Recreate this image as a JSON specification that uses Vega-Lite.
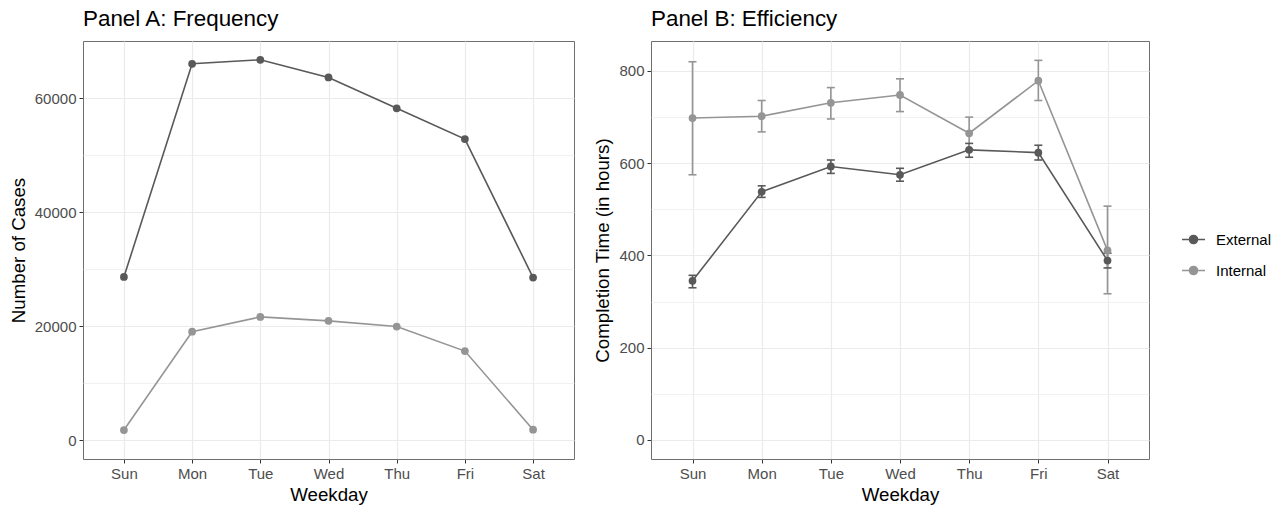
{
  "$schema": "https://vega.github.io/schema/vega-lite/v6.json",
  "padding": {"left": 8, "top": 7, "right": 0, "bottom": 0},
  "background": "white",
  "config": {
    "font": "Liberation Sans",
    "view": {"stroke": "#6f6f6f", "strokeWidth": 1},
    "axis": {
      "gridColor": "#ebebeb", "gridWidth": 1.2, "domain": false,
      "tickColor": "#333333", "tickSize": 4, "tickWidth": 1,
      "labelColor": "#4d4d4d", "labelFontSize": 15, "labelFont": "Liberation Sans",
      "titleFontSize": 18.7, "titleFontWeight": "normal", "titleColor": "#000000", "titleFont": "Liberation Sans",
      "labelPadding": 3
    },
    "title": {"anchor": "start", "frame": "group", "fontSize": 22.4, "fontWeight": "normal", "font": "Liberation Sans", "offset": 11, "color": "#000000"}
  },
  "datasets": {
    "freq": [
      {"day": "Sun", "type": "External", "cases": 28600},
      {"day": "Mon", "type": "External", "cases": 66000},
      {"day": "Tue", "type": "External", "cases": 66700},
      {"day": "Wed", "type": "External", "cases": 63600},
      {"day": "Thu", "type": "External", "cases": 58200},
      {"day": "Fri", "type": "External", "cases": 52800},
      {"day": "Sat", "type": "External", "cases": 28500},
      {"day": "Sun", "type": "Internal", "cases": 1750},
      {"day": "Mon", "type": "Internal", "cases": 19000},
      {"day": "Tue", "type": "Internal", "cases": 21600},
      {"day": "Wed", "type": "Internal", "cases": 20900},
      {"day": "Thu", "type": "Internal", "cases": 19900},
      {"day": "Fri", "type": "Internal", "cases": 15600},
      {"day": "Sat", "type": "Internal", "cases": 1800}
    ],
    "eff": [
      {"day": "Sun", "type": "External", "hours": 345, "lo": 330, "hi": 357},
      {"day": "Mon", "type": "External", "hours": 538, "lo": 526, "hi": 551},
      {"day": "Tue", "type": "External", "hours": 593, "lo": 578, "hi": 607},
      {"day": "Wed", "type": "External", "hours": 575, "lo": 561, "hi": 589},
      {"day": "Thu", "type": "External", "hours": 629, "lo": 613, "hi": 643},
      {"day": "Fri", "type": "External", "hours": 623, "lo": 607, "hi": 639},
      {"day": "Sat", "type": "External", "hours": 389, "lo": 373, "hi": 405},
      {"day": "Sun", "type": "Internal", "hours": 698, "lo": 575, "hi": 820},
      {"day": "Mon", "type": "Internal", "hours": 702, "lo": 668, "hi": 736},
      {"day": "Tue", "type": "Internal", "hours": 731, "lo": 696, "hi": 764},
      {"day": "Wed", "type": "Internal", "hours": 748, "lo": 712, "hi": 783},
      {"day": "Thu", "type": "Internal", "hours": 665, "lo": 630, "hi": 700},
      {"day": "Fri", "type": "Internal", "hours": 779, "lo": 736, "hi": 823},
      {"day": "Sat", "type": "Internal", "hours": 411, "lo": 317, "hi": 507}
    ]
  },
  "resolve": {"scale": {"color": "independent"}},
  "spacing": 18,
  "hconcat": [
    {
      "title": "Panel A: Frequency",
      "width": 491,
      "height": 418,
      "data": {"name": "freq"},
      "encoding": {
        "x": {"field": "day", "type": "ordinal", "sort": ["Sun", "Mon", "Tue", "Wed", "Thu", "Fri", "Sat"],
              "scale": {"type": "point", "padding": 0.6},
              "axis": {"title": "Weekday", "labelAngle": 0, "grid": true, "titlePadding": 4}},
        "color": {"field": "type", "type": "nominal",
                  "scale": {"domain": ["External", "Internal"], "range": ["#595959", "#959595"]},
                  "legend": null}
      },
      "layer": [
        {
          "mark": {"type": "line", "strokeWidth": 1.6},
          "encoding": {
            "y": {"field": "cases", "type": "quantitative",
                  "scale": {"domain": [-3333, 70000], "nice": false, "zero": false},
                  "axis": {"orient": "right", "values": [10000, 30000, 50000], "grid": true, "gridWidth": 0.7,
                           "labels": false, "ticks": false, "title": null, "domain": false}}
          }
        },
        {
          "mark": {"type": "point", "filled": true, "opacity": 1, "size": 60},
          "encoding": {
            "y": {"field": "cases", "type": "quantitative",
                  "axis": {"title": "Number of Cases", "grid": true, "values": [0, 20000, 40000, 60000], "format": "d", "titlePadding": 6}}
          }
        }
      ],
      "resolve": {"axis": {"y": "independent"}}
    },
    {
      "title": "Panel B: Efficiency",
      "width": 498,
      "height": 418,
      "data": {"name": "eff"},
      "encoding": {
        "x": {"field": "day", "type": "ordinal", "sort": ["Sun", "Mon", "Tue", "Wed", "Thu", "Fri", "Sat"],
              "scale": {"type": "point", "padding": 0.6},
              "axis": {"title": "Weekday", "labelAngle": 0, "grid": true, "titlePadding": 4}},
        "color": {"field": "type", "type": "nominal",
                  "scale": {"domain": ["External", "Internal"], "range": ["#595959", "#959595"]},
                  "legend": {
                    "title": null, "orient": "none", "legendX": 530, "legendY": 186,
                    "symbolType": "M-1,0H1M-0.35,0A0.35,0.35,0,1,1,0.35,0A0.35,0.35,0,1,1,-0.35,0Z",
                    "symbolSize": 529, "labelFontSize": 15, "labelColor": "#000000", "labelFont": "Liberation Sans",
                    "rowPadding": 10, "labelOffset": 10,
                    "encode": {"symbols": {"update": {
                      "stroke": [{"test": "datum.value === 'External'", "value": "#595959"}, {"value": "#959595"}],
                      "fill": [{"test": "datum.value === 'External'", "value": "#595959"}, {"value": "#959595"}],
                      "strokeWidth": {"value": 1.6},
                      "opacity": {"value": 1}
                    }}}
                  }}
      },
      "layer": [
        {
          "mark": {"type": "rule", "strokeWidth": 1.6},
          "encoding": {
            "y": {"field": "lo", "type": "quantitative",
                  "scale": {"domain": [-41.2, 865], "nice": false, "zero": false},
                  "axis": {"orient": "right", "values": [100, 300, 500, 700], "grid": true, "gridWidth": 0.7,
                           "labels": false, "ticks": false, "title": null, "domain": false}},
            "y2": {"field": "hi"}
          }
        },
        {
          "mark": {"type": "tick", "thickness": 1.6, "size": 8, "opacity": 1},
          "encoding": {"y": {"field": "lo", "type": "quantitative", "axis": null}}
        },
        {
          "mark": {"type": "tick", "thickness": 1.6, "size": 8, "opacity": 1},
          "encoding": {"y": {"field": "hi", "type": "quantitative", "axis": null}}
        },
        {
          "mark": {"type": "line", "strokeWidth": 1.6},
          "encoding": {"y": {"field": "hours", "type": "quantitative", "axis": null}}
        },
        {
          "mark": {"type": "point", "filled": true, "opacity": 1, "size": 60},
          "encoding": {
            "y": {"field": "hours", "type": "quantitative",
                  "axis": {"title": "Completion Time (in hours)", "grid": true, "values": [0, 200, 400, 600, 800], "titlePadding": 6}}
          }
        }
      ],
      "resolve": {"axis": {"y": "independent"}}
    }
  ]
}
